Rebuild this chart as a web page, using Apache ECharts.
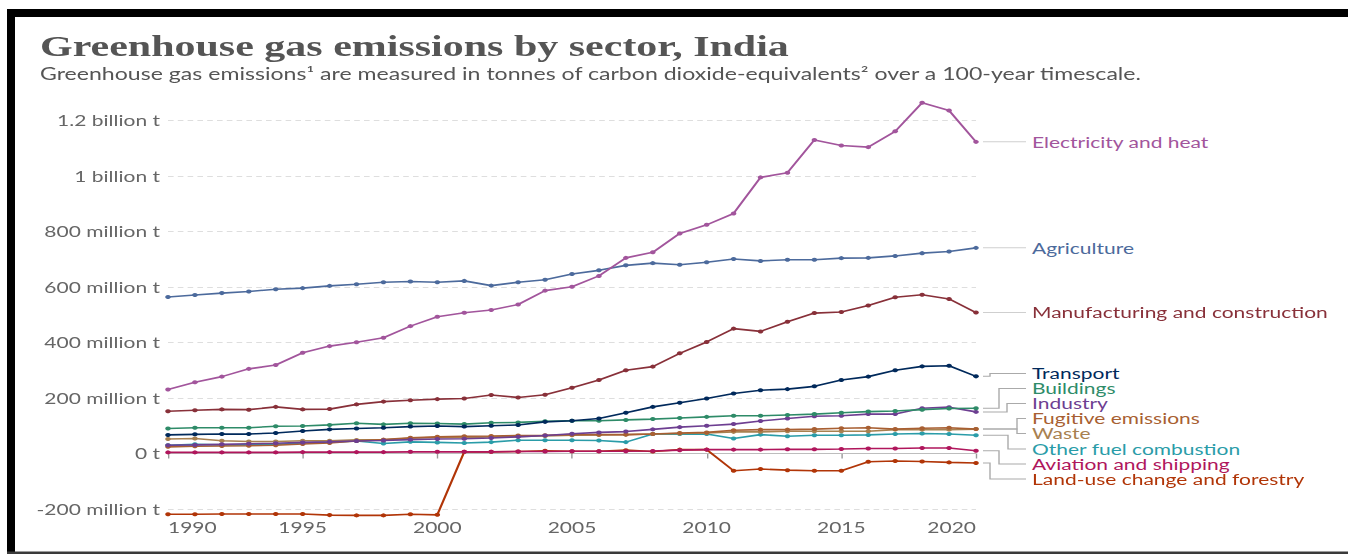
<!DOCTYPE html>
<html>
<head>
<meta charset="utf-8">
<script src="https://cdn.jsdelivr.net/npm/echarts/dist/echarts.min.js"></script>
<style>
html,body{margin:0;padding:0;background:#fff;overflow:hidden}
#wrap{width:1348px;height:554px;overflow:hidden;position:relative;background:#fff}
#chart{height:554px;transform-origin:0 0}
</style>
</head>
<body>
<div id="wrap"><div id="chart"></div></div>
<script>
// ---------------- DATA ----------------
const years = [1990,1991,1992,1993,1994,1995,1996,1997,1998,1999,2000,2001,2002,2003,2004,2005,2006,2007,2008,2009,2010,2011,2012,2013,2014,2015,2016,2017,2018,2019,2020];
const xTicks = [1990,1995,2000,2005,2010,2015,2020];
const yTicks = [-200,0,200,400,600,800,1000,1200]; // million tonnes

const electricity   = [231,257,277,305,319,363,387,401,417,459,493,507,517,537,587,601,640,705,725,793,824,865,995,1012,1130,1110,1104,1161,1264,1236,1123];
const agriculture   = [564,571,578,584,592,596,604,610,617,620,617,622,605,617,626,647,660,678,686,680,689,701,694,698,698,704,705,712,722,728,741];
const manufacturing = [152,156,159,158,168,159,160,177,187,192,196,198,211,202,212,237,265,300,313,361,402,450,440,475,506,510,533,563,572,557,508];
const transport     = [67,69,70,70,74,81,87,90,93,97,99,97,100,103,114,118,126,147,168,183,198,216,228,232,242,265,277,300,314,316,278];
const buildings     = [90,93,93,93,98,99,103,109,105,109,108,106,111,112,116,118,118,121,124,128,132,136,136,139,142,147,151,153,158,162,163];
const industry      = [30,31,33,35,37,40,42,45,47,50,52,53,56,60,65,71,76,79,87,95,100,106,117,126,134,136,142,142,163,167,150];
const fugitive      = [24,26,27,28,30,34,38,45,50,57,60,62,63,65,66,68,68,68,70,74,76,84,86,86,88,91,93,88,91,93,88];
const waste         = [52,54,46,43,43,46,46,49,49,55,58,58,60,61,63,66,67,68,70,72,74,78,78,80,80,80,80,86,86,86,88];
const otherFuel     = [30,33,31,31,33,38,41,45,36,42,40,38,41,48,48,48,47,41,70,70,70,54,68,62,66,66,67,70,72,70,66];
const aviation      = [4,4,4,4,4,5,5,5,5,6,6,6,6,7,7,8,8,8,9,12,14,14,14,15,15,16,18,18,20,20,10];
const landUse       = [-219,-219,-218,-218,-218,-218,-222,-223,-223,-219,-221,6,6,7,10,8,8,12,7,14,14,-62,-56,-60,-62,-62,-30,-27,-29,-32,-34];

const seriesNames = ['Electricity and heat','Agriculture','Manufacturing and construction','Transport','Buildings','Industry','Fugitive emissions','Waste','Other fuel combustion','Aviation and shipping','Land-use change and forestry'];
const seriesValues = [electricity, agriculture, manufacturing, transport, buildings, industry, fugitive, waste, otherFuel, aviation, landUse];

// ---------------- STYLE / LAYOUT ----------------
const colors = ['#a2559c','#4c6a9c','#883039','#00295b','#2e8b68','#6d3e91','#a85f32','#a88150','#2a9ca8','#b0165c','#b13507'];
// label rows for the crowded lower group (reference pixel rows); null => at line end
const labelRows = [null,null,null,373.5,388.5,403.5,418.5,433.5,449,464,479];
const elbowX    = [null,null,null,990,999,1007,1017,1017,1008,999,990];

const SX = 1.4;               // horizontal stretch of the reference image
const W = 1348 / SX;
const X = v => v / SX;
const el = document.getElementById('chart');
el.style.width = W + 'px';
el.style.transform = 'scaleX(' + SX + ')';

const chart = echarts.init(el, null, {renderer: 'svg', width: W, height: 554});
const FONT = 'Lato';

const series = seriesValues.map((vals, i) => ({
  type: 'line',
  name: seriesNames[i],
  data: years.map((y, k) => [y, vals[k]]),
  symbol: 'circle',
  symbolSize: 4,
  showSymbol: true,
  clip: false,
  z: 10 + (seriesValues.length - i),
  lineStyle: {width: 1.6, color: colors[i]},
  itemStyle: {color: colors[i]},
  emphasis: {disabled: true},
  animation: false
}));
series[0].markLine = {
  silent: true, symbol: 'none', animation: false,
  label: {show: false},
  lineStyle: {type: 'solid', color: '#bdbdbd', width: 1.2},
  data: [{yAxis: 0}]
};

function fmtY(v) {
  if (v === 0) return '0 t';
  if (Math.abs(v) >= 1000) return (v / 1000) + ' billion t';
  return v + ' million t';
}

chart.setOption({
  animation: false,
  backgroundColor: '#fff',
  title: [
    {text: 'Greenhouse gas emissions by sector, India', left: X(40), top: 31, padding: 0,
     textStyle: {fontFamily: 'Liberation Serif', fontWeight: 'bold', fontSize: 30, color: '#555'}},
    {text: 'Greenhouse gas emissions\u00b9 are measured in tonnes of carbon dioxide-equivalents\u00b2 over a 100-year timescale.',
     left: X(40), top: 65, padding: 0, textStyle: {fontFamily: FONT, fontWeight: 'normal', fontSize: 16.5, color: '#555'}}
  ],
  grid: {left: X(168), right: W - X(976), top: 120.5, bottom: 45, containLabel: false},
  xAxis: {
    type: 'value', min: xTicks[0], max: xTicks[xTicks.length - 1], interval: 5,
    offset: 5,
    axisLine: {show: false},
    axisTick: {show: true, length: 5, lineStyle: {color: '#999'}},
    splitLine: {show: false},
    axisLabel: {color: '#666', fontFamily: FONT, fontSize: 15, margin: 6,
      alignMinLabel: 'left', alignMaxLabel: 'right',
      formatter: v => String(v)}
  },
  yAxis: {
    type: 'value', min: yTicks[0], max: yTicks[yTicks.length - 1], interval: 200,
    axisLine: {show: false}, axisTick: {show: false},
    splitLine: {show: true, lineStyle: {type: [4, 3], color: '#dedede', width: 1}},
    axisLabel: {color: '#666', fontFamily: FONT, fontSize: 15, margin: X(8), formatter: fmtY}
  },
  series: series
});

// ---------- end labels with connectors + frame ----------
const gfx = [];
seriesValues.forEach((vals, i) => {
  const p = chart.convertToPixel({gridIndex: 0}, [years[years.length - 1], vals[vals.length - 1]]);
  const ly = labelRows[i] === null ? p[1] : labelRows[i];
  const x0 = X(983), x1 = X(1026);
  const pts = elbowX[i] === null
    ? [[x0, p[1]], [x1, ly]]
    : [[x0, p[1]], [X(elbowX[i]), p[1]], [X(elbowX[i]), ly], [x1, ly]];
  gfx.push({type: 'polyline', silent: true, shape: {points: pts},
    style: {stroke: i < 3 ? '#cfcfcf' : '#aaa', lineWidth: 1, fill: null}});
  gfx.push({type: 'text', silent: true, x: X(1032), y: ly,
    style: {text: seriesNames[i], fill: colors[i], fontFamily: FONT, fontSize: 15, lineHeight: 14,
      verticalAlign: 'middle', align: 'left'}});
});
// picture frame of the reference
gfx.push({type: 'rect', silent: true, shape: {x: X(7), y: 9, width: X(1341), height: 8}, style: {fill: '#000'}});
gfx.push({type: 'rect', silent: true, shape: {x: X(7), y: 9, width: X(8), height: 545}, style: {fill: '#000'}});
gfx.push({type: 'rect', silent: true, shape: {x: X(7), y: 551.5, width: X(1341), height: 2.5}, style: {fill: '#3a3a3a'}});
chart.setOption({graphic: gfx});
</script>
</body>
</html>
